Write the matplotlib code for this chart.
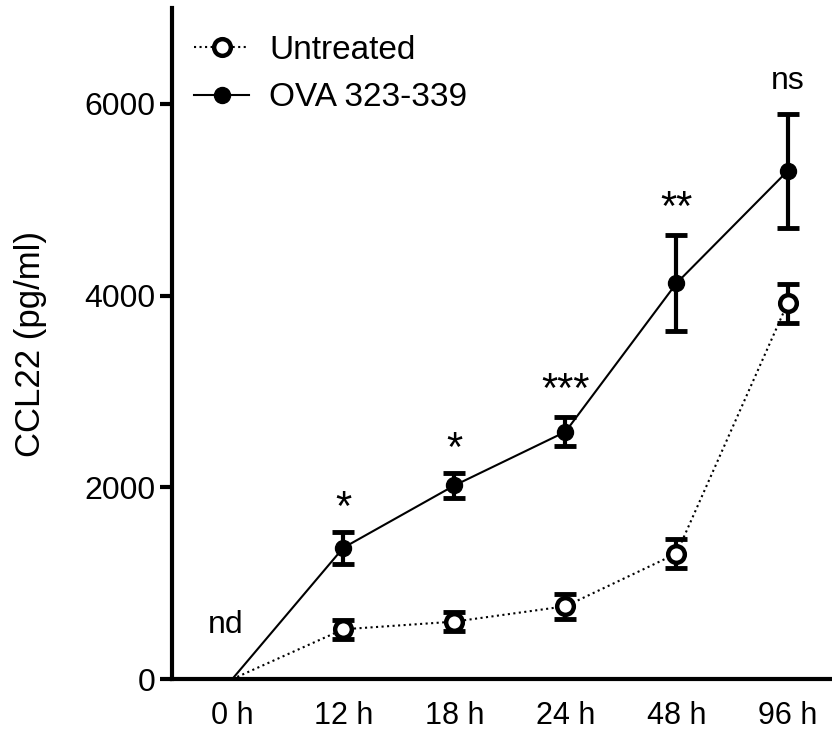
import matplotlib.pyplot as plt

plt.rcParams['font.family'] = ['Liberation Sans', 'DejaVu Sans']

time_labels = ["0 h", "12 h", "18 h", "24 h", "48 h", "96 h"]
untreated = [0, 520, 600, 760, 1310, 3920]
untreated_err = [0, 100, 100, 130, 150, 200]
ova = [0, 1370, 2020, 2580, 4130, 5300]
ova_err = [0, 170, 130, 150, 500, 590]
sig_labels = ["nd", "*", "*", "***", "**", "ns"]
sig_heights = [560, 1800, 2420, 3040, 4930, 6240]

x = list(range(len(time_labels)))

fig = plt.figure(figsize=(8.32, 7.35), dpi=100)
ax = fig.add_axes([0.207, 0.076, 0.793, 0.913])

ax.errorbar(x[1:], untreated[1:], yerr=untreated_err[1:], fmt='none',
            ecolor='black', elinewidth=3, capsize=8, capthick=3.5, zorder=2)
ax.errorbar(x[1:], ova[1:], yerr=ova_err[1:], fmt='none',
            ecolor='black', elinewidth=3, capsize=8, capthick=3.5, zorder=2)

ax.plot(x, untreated, linestyle=':', color='black', linewidth=1.5, zorder=3)
ax.plot(x[1:], untreated[1:], linestyle='none', marker='o', markersize=12,
        markerfacecolor='white', markeredgecolor='black', markeredgewidth=3.2, zorder=4)
ax.plot(x, ova, linestyle='-', color='black', linewidth=1.5, zorder=3)
ax.plot(x[1:], ova[1:], linestyle='none', marker='o', markersize=11.5,
        color='black', zorder=4)

# legend handles
h1, = ax.plot([], [], linestyle=':', color='black', linewidth=1.5, marker='o',
              markersize=12, markerfacecolor='white', markeredgecolor='black',
              markeredgewidth=3.2)
h2, = ax.plot([], [], linestyle='-', color='black', linewidth=1.5, marker='o',
              markersize=11.5)
ax.legend([h1, h2], ["Untreated", "OVA 323-339"], loc='upper left',
          bbox_to_anchor=(-0.012, 1.005), frameon=False, fontsize=24,
          handlelength=1.65, handletextpad=0.6, labelspacing=0.5)

for xi, lab, h in zip(x, sig_labels, sig_heights):
    fs = 23 if lab in ("nd", "ns") else 30
    dy = 0 if lab in ("nd", "ns") else -30
    ax.text(xi - (0.06 if lab == "nd" else 0), h + dy, lab, ha='center',
            va='center', fontsize=fs)

ax.set_xlim(-0.54, 5.4)
ax.set_ylim(0, 7000)
ax.set_yticks([0, 2000, 4000, 6000])
ax.set_xticks(x)
ax.set_xticklabels(time_labels)
ax.tick_params(axis='y', labelsize=23, width=3, length=9, direction='out', pad=3)
ax.tick_params(axis='x', labelsize=22, length=0, pad=16)
ax.set_ylabel("CCL22 (pg/ml)", fontsize=25, labelpad=27)

for side in ('top', 'right'):
    ax.spines[side].set_visible(False)
for side in ('left', 'bottom'):
    ax.spines[side].set_linewidth(3)

fig.savefig("out.png", dpi=100)
